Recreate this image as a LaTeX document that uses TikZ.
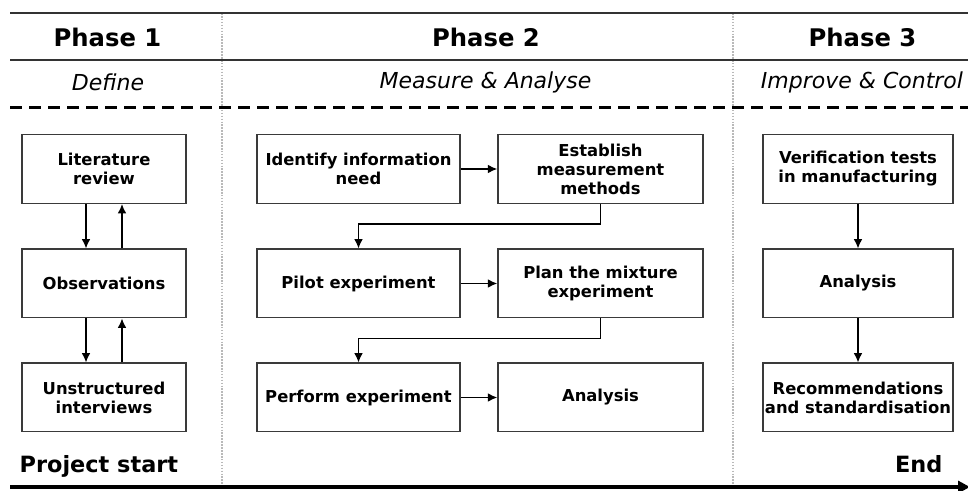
\documentclass[tikz,border=0pt]{standalone}
\usepackage{fontspec}
\setmainfont{DejaVu Sans}
\usetikzlibrary{arrows.meta}

\definecolor{rule}{HTML}{333333}
\definecolor{frame}{HTML}{3A3A3A}

\tikzset{
  header/.style={font=\fontsize{18.2}{21}\selectfont\bfseries},
  subhead/.style={font=\fontsize{16.5}{20}\selectfont\itshape},
  stepbox/.style={draw=frame, line width=1.1pt, minimum height=51.4pt,
    inner sep=0pt, align=center, font=\fontsize{12.3}{14.3}\selectfont\bfseries},
  w1/.style={minimum width=123pt},
  w2l/.style={minimum width=152.25pt},
  w2r/.style={minimum width=153.75pt},
  w3/.style={minimum width=142.5pt},
  flow/.style={draw=black, line width=1.1pt, -{Latex[length=7pt,width=6.5pt]}},
  headrule/.style={draw=rule, line width=1.9pt},
  dashrule/.style={draw=black, line width=2.25pt, dash pattern=on 9pt off 5.25pt},
  divider/.style={draw=gray!55, line width=0.9pt, dash pattern=on 1.2pt off 1pt},
  timeline/.style={draw=black, line width=3pt, -{Triangle[length=9pt,width=9pt]}},
  endlabel/.style={font=\fontsize{16.8}{21}\selectfont\bfseries}
}

\begin{document}
\begin{tikzpicture}[x=0.75pt, y=-0.75pt]
  \useasboundingbox (0,0) rectangle (968,491);

  % phase dividers
  \coordinate (d1t) at (222,13);  \coordinate (d1b) at (222,486);
  \coordinate (d2t) at (733,13);  \coordinate (d2b) at (733,486);
  \draw[divider] (d1t) -- (d1b);
  \draw[divider] (d2t) -- (d2b);

  % header rules
  \coordinate (r1a) at (10,13);  \coordinate (r1b) at (968,13);
  \coordinate (r2a) at (10,60);  \coordinate (r2b) at (968,60);
  \coordinate (r3a) at (10,108); \coordinate (r3b) at (968,108);
  \draw[headrule] (r1a) -- (r1b);
  \draw[headrule] (r2a) -- (r2b);
  \draw[dashrule] (r3a) -- (r3b);

  % phase titles
  \node[header] (p1) at (107.5,37) {Phase 1};
  \node[header] (p2) at (486,37) {Phase 2};
  \node[header] (p3) at (862.5,37) {Phase 3};
  \node[subhead] (s1) at (108,82) {Define};
  \node[subhead] (s2) at (485.5,82) {Measure \& Analyse};
  \node[subhead] (s3) at (862,82) {Improve \& Control};

  % phase 1
  \node[stepbox,w1] (lit) at (104,169) {Literature\\review};
  \node[stepbox,w1] (obs) at (104,283.5) {Observations};
  \node[stepbox,w1] (int) at (104,397.5) {Unstructured\\interviews};
  \draw[flow] ([xshift=-13.5pt]lit.south) -- ([xshift=-13.5pt]obs.north);
  \draw[flow] ([xshift=13.5pt]obs.north) -- ([xshift=13.5pt]lit.south);
  \draw[flow] ([xshift=-13.5pt]obs.south) -- ([xshift=-13.5pt]int.north);
  \draw[flow] ([xshift=13.5pt]int.north) -- ([xshift=13.5pt]obs.south);

  % phase 2
  \node[stepbox,w2l] (idn) at (358.5,169) {Identify information\\need};
  \node[stepbox,w2r] (est) at (600.5,169) {Establish\\measurement\\methods};
  \node[stepbox,w2l] (pil) at (358.5,283.5) {Pilot experiment};
  \node[stepbox,w2r] (pln) at (600.5,283.5) {Plan the mixture\\experiment};
  \node[stepbox,w2l] (prf) at (358.5,397.5) {Perform experiment};
  \node[stepbox,w2r] (ana) at (600.5,397.5) {Analysis};
  \draw[flow] (idn) -- (est);
  \draw[flow] (pil) -- (pln);
  \draw[flow] (prf) -- (ana);
  \draw[flow] (est.south) -- ++(0,20) -| (pil.north);
  \draw[flow] (pln.south) -- ++(0,20) -| (prf.north);

  % phase 3
  \node[stepbox,w3] (ver) at (858,169) {Verification tests\\in manufacturing};
  \node[stepbox,w3] (an3) at (858,283.5) {Analysis};
  \node[stepbox,w3] (rec) at (858,397.5) {Recommendations\\and standardisation};
  \draw[flow] (ver) -- (an3);
  \draw[flow] (an3) -- (rec);

  % time line
  \node[endlabel, anchor=base west] (start) at (15,473) {Project start};
  \node[endlabel, anchor=base east] (end) at (947,473) {End};
  \coordinate (t0) at (10,487);
  \coordinate (t1) at (970,487);
  \draw[timeline] (t0) -- (t1);
\end{tikzpicture}
\end{document}
